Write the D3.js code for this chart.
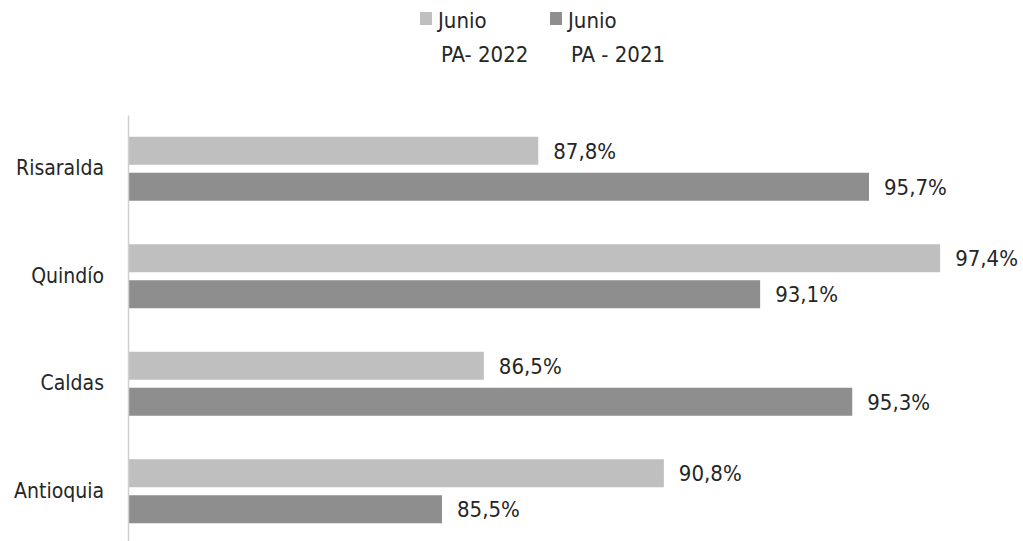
<!DOCTYPE html>
<html lang="es">
<head>
<meta charset="utf-8">
<script src="https://d3js.org/d3.v7.min.js"></script>
<title>Junio PA 2022 vs 2021</title>
<style>
  body { margin: 0; background: #fff; }
  svg text { font-family: "Liberation Sans Narrow", "DejaVu Sans Condensed", "Noto Sans", sans-serif; fill: #262626; }
</style>
</head>
<body>
<div id="chart"></div>
<script>
  const categories = ["Risaralda", "Quindío", "Caldas", "Antioquia"];
  const seriesNames = ["Junio PA- 2022", "Junio PA - 2021"];
  const legendLines = [["Junio", "PA- 2022"], ["Junio", "PA - 2021"]];
  const values2022 = [87.8, 97.4, 86.5, 90.8];
  const values2021 = [95.7, 93.1, 95.3, 85.5];
  const colors = ["#bfbfbf", "#8e8e8e"];

  const w = 1023, h = 541;
  const svg = d3.select("#chart").append("svg").attr("width", w).attr("height", h);

  // x axis starts at 78 (not zero) like the original
  const xScale = d3.scaleLinear().domain([78, 100]).range([128, 1049]);
  const yScale = d3.scaleBand().domain(categories).range([115, 545]);
  const ySub = d3.scaleBand().domain(seriesNames).range([-32, 32]).paddingInner(0.222);

  const rows = categories.map((c, i) => ({ cat: c, vals: [values2022[i], values2021[i]] }));

  const groups = svg.selectAll("g.row").data(rows).enter().append("g")
    .attr("class", "row")
    .attr("transform", d => "translate(0," + (yScale(d.cat) + yScale.bandwidth() / 2) + ")");

  groups.selectAll("rect").data(d => d.vals.map((v, k) => ({ v: v, k: k }))).enter().append("rect")
    .attr("x", xScale(78))
    .attr("y", d => ySub(seriesNames[d.k]))
    .attr("width", d => xScale(d.v) - xScale(78))
    .attr("height", ySub.bandwidth())
    .attr("fill", d => colors[d.k]);

  groups.selectAll("text.val").data(d => d.vals.map((v, k) => ({ v: v, k: k }))).enter().append("text")
    .attr("class", "val")
    .attr("x", d => xScale(d.v) + 15)
    .attr("y", d => ySub(seriesNames[d.k]) + ySub.bandwidth() / 2)
    .attr("dy", "0.36em")
    .style("font-size", "22px")
    .text(d => d.v.toFixed(1).replace(".", ",") + "%");

  // y axis: just the line and the category labels
  const yAxis = d3.axisLeft(yScale).tickSize(0).tickPadding(24);
  const yg = svg.append("g").attr("transform", "translate(" + xScale(78) + ",0)").call(yAxis);
  yg.select(".domain").attr("stroke", "#d0d0d0").attr("stroke-width", 1.5);
  yg.selectAll("text").style("font-size", "21px").attr("fill", "#262626");

  // legend
  const legend = svg.append("g").attr("id", "legend");
  const lx = [420, 550];
  legendLines.forEach((lines, k) => {
    const item = legend.append("g").attr("transform", "translate(" + lx[k] + ",0)");
    item.append("rect").attr("x", 0).attr("y", 12).attr("width", 12).attr("height", 13).attr("fill", colors[k]);
    item.append("text").attr("x", 18).attr("y", 28).style("font-size", "22px").text(lines[0]);
    item.append("text").attr("x", 21).attr("y", 62).style("font-size", "22px").text(lines[1]);
  });
</script>
</body>
</html>
